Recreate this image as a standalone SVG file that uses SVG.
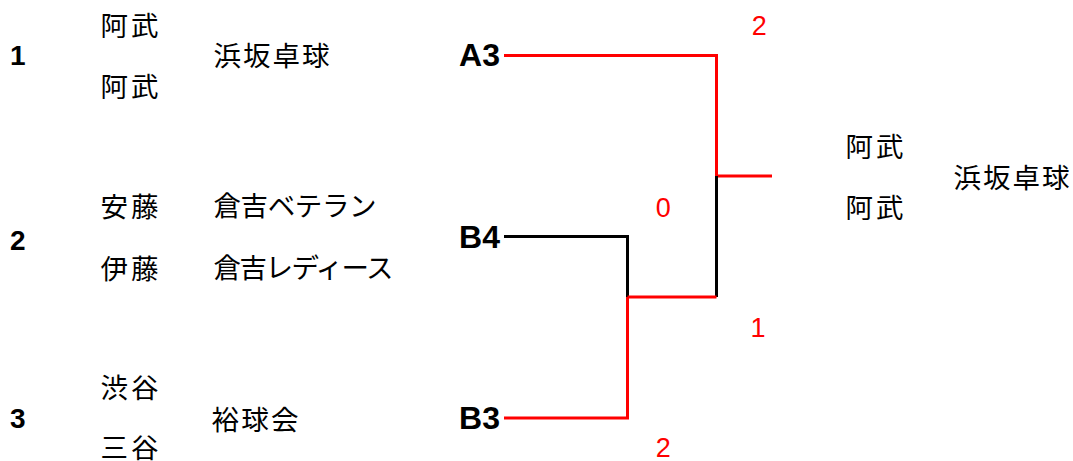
<svg xmlns="http://www.w3.org/2000/svg" width="1073" height="461" viewBox="0 0 1073 461">
<style>
.jp{font-family:"Noto Sans CJK JP","Noto Sans",sans-serif;font-size:27.5px;fill:#000;dominant-baseline:central}
.num{font-family:"Liberation Sans",Arial,sans-serif;font-size:28px;font-weight:bold;fill:#000}
.code{font-family:"Liberation Sans",Arial,sans-serif;font-size:32px;font-weight:bold;fill:#000;text-anchor:end}
.score{font-family:"Liberation Sans",Arial,sans-serif;font-size:27px;fill:#FF0000;text-anchor:middle}
.win{fill:none;stroke:#FF0000;stroke-width:3}
.lose{fill:none;stroke:#000;stroke-width:3}
</style>
<rect width="1073" height="461" fill="#fff"/>
<g id="connectors">
<polyline class="win" points="504,55.5 716.5,55.5 716.5,176"/>
<polyline class="win" points="716.5,176 772,176"/>
<polyline class="lose" points="716.5,176 716.5,297"/>
<polyline class="lose" points="504,236.5 627.5,236.5 627.5,297"/>
<polyline class="win" points="627.5,297 716.5,297"/>
<polyline class="win" points="504,418 627.5,418 627.5,297"/>
</g>
<g id="entry1">
<text class="num" x="10" y="65">1</text>
<text class="jp" x="100.5" y="24.3" textLength="58">阿武</text>
<text class="jp" x="100.5" y="85.3" textLength="58">阿武</text>
<text class="jp" x="213.5" y="54.3" textLength="116">浜坂卓球</text>
</g>
<g id="entry2">
<text class="num" x="10" y="250">2</text>
<text class="jp" x="100.5" y="205" textLength="58">安藤</text>
<text class="jp" x="100.5" y="267" textLength="58">伊藤</text>
<text class="jp" x="213.5" y="204" textLength="163">倉吉ベテラン</text>
<text class="jp" x="213.5" y="266" textLength="180">倉吉レディース</text>
</g>
<g id="entry3">
<text class="num" x="10" y="427.5">3</text>
<text class="jp" x="100.5" y="385.7" textLength="58">渋谷</text>
<text class="jp" x="100.5" y="445.5" textLength="58">三谷</text>
<text class="jp" x="211.5" y="418" textLength="87">裕球会</text>
</g>
<g id="codeA3"><text class="code" x="500" y="66">A3</text></g>
<g id="codeB4"><text class="code" x="500" y="248">B4</text></g>
<g id="codeB3"><text class="code" x="500" y="428.5">B3</text></g>
<g id="scores">
<text class="score" x="759.3" y="35">2</text>
<text class="score" x="663.3" y="216.7">0</text>
<text class="score" x="758" y="337">1</text>
<text class="score" x="663.3" y="457">2</text>
</g>
<g id="winner">
<text class="jp" x="845.5" y="145" textLength="58">阿武</text>
<text class="jp" x="845.5" y="206" textLength="58">阿武</text>
<text class="jp" x="953.5" y="175.5" textLength="116">浜坂卓球</text>
</g>
</svg>
